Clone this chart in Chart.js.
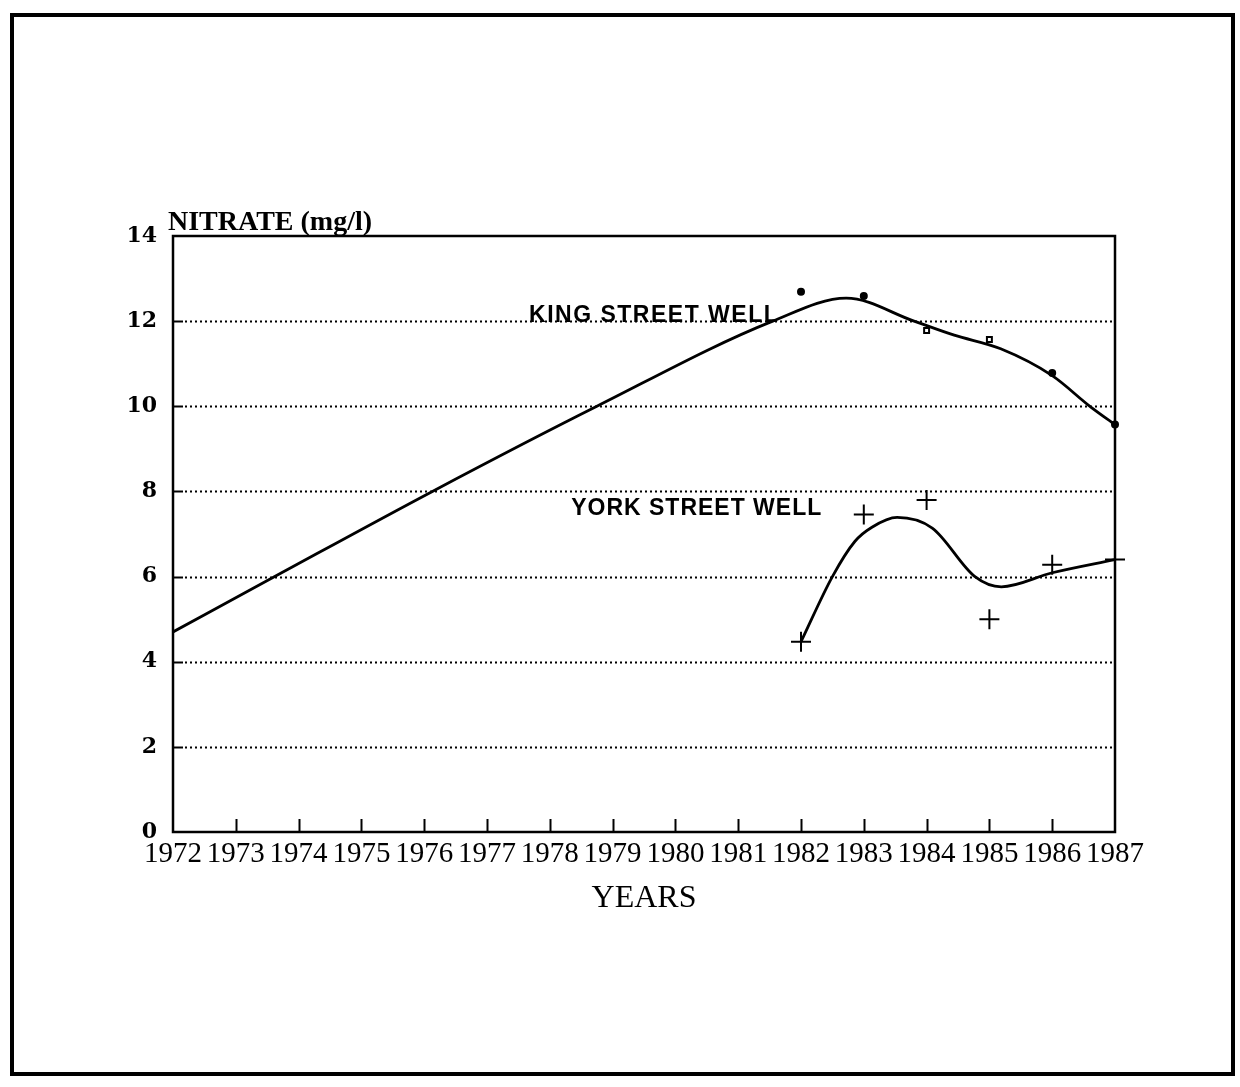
<!DOCTYPE html>
<html>
<head>
<meta charset="utf-8">
<script src="https://cdn.jsdelivr.net/npm/chart.js@4.4.1/dist/chart.umd.min.js"></script>
<style>
  html, body { margin: 0; padding: 0; background: #fff; }
  canvas { display: block; }
</style>
</head>
<body>
<canvas id="myChart" width="1240" height="1087"></canvas>
<script>
// axis ticks
var years = [1972, 1973, 1974, 1975, 1976, 1977, 1978, 1979, 1980, 1981, 1982, 1983, 1984, 1985, 1986, 1987]
var yTicks = [0, 2, 4, 6, 8, 10, 12, 14]

// King Street Well - measured points
var kingYears = [1982, 1983, 1984, 1985, 1986, 1987]
var kingValues = [12.69, 12.59, 11.78, 11.57, 10.78, 9.57]
// King Street Well - drawn curve
var kingCurveYears = [1972, 1973.62, 1976.13, 1978.75, 1981.55, 1982.72, 1983.8, 1984.44, 1985.18, 1986, 1986.6, 1987]
var kingCurveValues = [4.7, 6.0, 8.0, 10.0, 12.0, 12.54, 12.0, 11.67, 11.35, 10.72, 10.0, 9.57]

// York Street Well - measured points
var yorkYears = [1982, 1983, 1984, 1985, 1986, 1987]
var yorkValues = [4.47, 7.46, 7.8, 5.0, 6.28, 6.4]
// York Street Well - drawn curve
var yorkCurveYears = [1982, 1982.5, 1982.86, 1983.13, 1983.53, 1984.09, 1984.77, 1985.19, 1986, 1987]
var yorkCurveValues = [4.47, 6.0, 6.83, 7.16, 7.39, 7.14, 6.0, 5.76, 6.09, 6.4]

function pairs(xs, ys) {
  return xs.map(function (x, i) { return { x: x, y: ys[i] } })
}

var paperPlugin = {
  id: 'paper',
  beforeDraw: function (chart) {
    var ctx = chart.ctx
    ctx.save()
    ctx.fillStyle = '#fff'
    ctx.fillRect(0, 0, chart.width, chart.height)
    ctx.strokeStyle = '#000'
    ctx.lineWidth = 4
    ctx.strokeRect(12, 15, 1221, 1059)
    ctx.restore()
  },
  beforeDatasetsDraw: function (chart) {
    var ctx = chart.ctx
    var a = chart.chartArea
    var xs = chart.scales.x
    var ys = chart.scales.y
    ctx.save()
    ctx.strokeStyle = '#000'

    // dotted grid lines with a short solid stub at the left axis
    yTicks.forEach(function (v) {
      if (v == 0 || v == 14) return
      var y = Math.round(ys.getPixelForValue(v)) + 0.5
      ctx.lineWidth = 2
      ctx.setLineDash([])
      ctx.beginPath(); ctx.moveTo(a.left, y); ctx.lineTo(a.left + 10, y); ctx.stroke()
      ctx.lineWidth = 2.2
      ctx.setLineDash([2, 3])
      ctx.beginPath(); ctx.moveTo(a.left + 12, y); ctx.lineTo(a.right, y); ctx.stroke()
    })
    ctx.setLineDash([])

    // year tick marks pointing up from the bottom axis
    ctx.lineWidth = 2
    years.forEach(function (yr) {
      if (yr == years[0] || yr == years[years.length - 1]) return
      var x = Math.round(xs.getPixelForValue(yr)) + 0.5
      ctx.beginPath(); ctx.moveTo(x, a.bottom); ctx.lineTo(x, a.bottom - 13); ctx.stroke()
    })

    // plot frame
    ctx.lineWidth = 2.5
    ctx.strokeRect(a.left, a.top, a.right - a.left, a.bottom - a.top)

    // y title, written across the top of the axis
    ctx.fillStyle = '#000'
    ctx.font = 'bold 28px "Liberation Serif"'
    ctx.textAlign = 'left'
    ctx.textBaseline = 'alphabetic'
    ctx.fillText('NITRATE (mg/l)', a.left - 5, a.top - 6)

    // series labels
    ctx.font = 'bold 23px "Liberation Sans"'
    ctx.letterSpacing = '1.5px'
    ctx.fillText('KING STREET WELL', xs.getPixelForValue(1977.67), ys.getPixelForValue(12) + 1)
    ctx.letterSpacing = '1px'
    ctx.fillText('YORK STREET WELL', xs.getPixelForValue(1978.34), ys.getPixelForValue(7.45))
    ctx.restore()
  }
}

var ctx = document.getElementById('myChart').getContext('2d')
var chart = new Chart(ctx, {
  type: 'scatter',
  data: {
    datasets: [
      {
        label: 'King Street Well curve',
        data: pairs(kingCurveYears, kingCurveValues),
        showLine: true,
        cubicInterpolationMode: 'monotone',
        borderColor: '#000',
        borderWidth: 2.8,
        pointRadius: 0
      },
      {
        label: 'York Street Well curve',
        data: pairs(yorkCurveYears, yorkCurveValues),
        showLine: true,
        cubicInterpolationMode: 'monotone',
        borderColor: '#000',
        borderWidth: 2.8,
        pointRadius: 0
      },
      {
        label: 'King Street Well',
        data: pairs(kingYears, kingValues),
        pointStyle: ['circle', 'circle', 'rect', 'rect', 'circle', 'circle'],
        pointRadius: [3, 3, 3.5, 3.5, 3, 3],
        pointBackgroundColor: ['#000', '#000', '#fff', '#fff', '#000', '#000'],
        pointBorderColor: '#000',
        pointBorderWidth: 2,
        clip: false
      },
      {
        label: 'York Street Well',
        data: pairs(yorkYears, yorkValues),
        pointStyle: 'cross',
        pointRadius: 10,
        pointBorderColor: '#000',
        pointBorderWidth: 2,
        clip: false
      }
    ]
  },
  options: {
    responsive: false,
    animation: false,
    devicePixelRatio: 1,
    layout: { padding: { left: 0, top: 236, right: 125, bottom: 0 } },
    plugins: {
      legend: { display: false },
      tooltip: { enabled: false }
    },
    scales: {
      x: {
        type: 'linear',
        min: 1972,
        max: 1987,
        afterFit: function (s) { s.height = 255 },
        afterBuildTicks: function (s) { s.ticks = years.map(function (v) { return { value: v } }) },
        grid: { display: false },
        border: { display: false },
        ticks: {
          autoSkip: false,
          maxRotation: 0,
          padding: -3,
          color: '#000',
          font: { family: 'Liberation Serif', size: 29 },
          callback: function (v) { return String(v) }
        },
        title: {
          display: true,
          text: 'YEARS',
          color: '#000',
          font: { family: 'Liberation Serif', size: 32 },
          padding: { top: 0, bottom: 169 }
        }
      },
      y: {
        min: 0,
        max: 14,
        afterFit: function (s) { s.width = 173 },
        afterBuildTicks: function (s) { s.ticks = yTicks.map(function (v) { return { value: v } }) },
        grid: { display: false },
        border: { display: false },
        ticks: {
          padding: 8,
          color: '#000',
          font: { family: 'DejaVu Serif', size: 22, weight: 'bold' }
        }
      }
    }
  },
  plugins: [paperPlugin]
})
</script>
</body>
</html>
